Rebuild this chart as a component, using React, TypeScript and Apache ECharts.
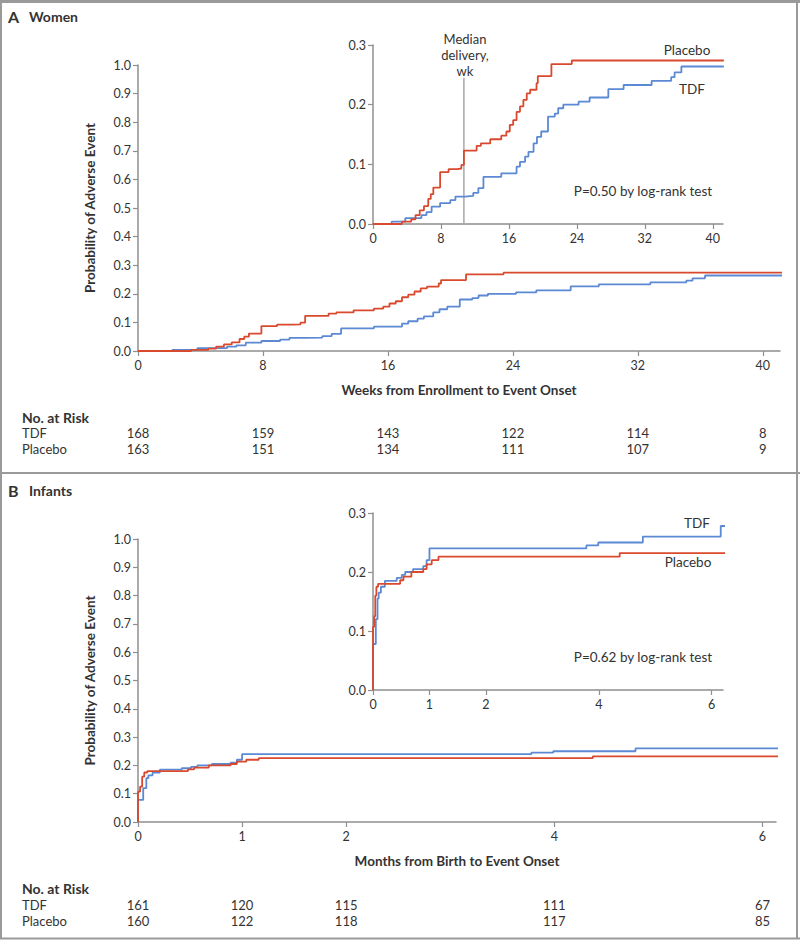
import React, { useEffect, useRef } from "react";
import * as echarts from "echarts";

// ---------- data ----------
const womenWeekTicks = [0, 8, 16, 24, 32, 40];
const infantMonthTicks = [0, 1, 2, 4, 6];

// Kaplan-Meier cumulative incidence, [week, probability]
const womenTDF: [number, number][] = [
  [0, 0], [2.2, 0.004], [3.8, 0.01], [5.7, 0.015], [6.3, 0.02], [6.9, 0.029], [7.9, 0.035],
  [9.1, 0.04], [9.7, 0.046], [10.8, 0.047], [11.8, 0.052], [12.4, 0.06], [13.0, 0.079],
  [15.1, 0.085], [16.9, 0.096], [17.3, 0.104], [17.9, 0.113], [18.3, 0.121], [18.9, 0.135],
  [19.3, 0.146], [19.8, 0.155], [20.6, 0.18], [21.4, 0.185], [21.8, 0.194], [22.4, 0.2],
  [24.2, 0.205], [25.5, 0.212], [27.7, 0.226], [29.5, 0.233], [32.8, 0.24], [35.1, 0.246],
  [35.5, 0.254], [36.3, 0.264], [41.3, 0.264],
];
const womenPlacebo: [number, number][] = [
  [0, 0], [3.4, 0.004], [4.5, 0.008], [5.0, 0.015], [5.5, 0.023], [6.0, 0.03], [6.5, 0.042],
  [6.8, 0.05], [7.1, 0.061], [7.9, 0.087], [8.9, 0.092], [9.9, 0.093], [10.4, 0.099],
  [10.7, 0.123], [12.2, 0.131], [12.7, 0.135], [13.8, 0.142], [15.1, 0.148], [15.7, 0.155],
  [16.1, 0.166], [16.5, 0.174], [16.9, 0.188], [17.3, 0.197], [17.7, 0.208], [18.1, 0.219],
  [18.5, 0.225], [19.25, 0.236], [19.4, 0.248], [21.0, 0.268], [23.4, 0.274], [41.3, 0.273],
];
// [month, probability]
const infantTDF: [number, number][] = [
  [0, 0], [0, 0.078], [0.05, 0.12], [0.08, 0.155], [0.1, 0.165], [0.14, 0.175], [0.21, 0.185],
  [0.42, 0.19], [0.51, 0.195], [0.57, 0.2], [0.71, 0.205], [0.89, 0.21], [0.95, 0.22],
  [1.0, 0.24], [3.78, 0.245], [3.99, 0.25], [4.78, 0.26], [6.16, 0.278], [6.25, 0.278],
];
const infantPlacebo: [number, number][] = [
  [0, 0], [0, 0.107], [0.02, 0.125], [0.04, 0.16], [0.06, 0.175], [0.09, 0.18], [0.48, 0.186],
  [0.54, 0.192], [0.68, 0.2], [0.89, 0.205], [0.95, 0.213], [1.04, 0.22], [1.16, 0.226],
  [4.37, 0.232], [6.25, 0.232],
];

const medianDeliveryWeek = 10.7;
const medianDeliveryLineTop = 0.245;

const womenRiskTDF = [168, 159, 143, 122, 114, 8];
const womenRiskPlacebo = [163, 151, 134, 111, 107, 9];
const infantRiskTDF = [161, 120, 115, 111, 67];
const infantRiskPlacebo = [160, 122, 118, 117, 85];

// ---------- styles ----------
const RED = "#d9492e";
const BLUE = "#5b89d3";
const AXIS = "#8f8f8f";
const BORDER = "#9a9a9a";
const TEXT = "#333333";
const FONT = 'Lato, "Open Sans", "Noto Sans", sans-serif';
const NUM_FONT = '"Liberation Sans Narrow", Lato, "Noto Sans", sans-serif';

function makeX(gridIndex: number, max: number, ticks: number[], name?: string) {
  return {
    type: "value",
    gridIndex,
    min: 0,
    max,
    axisLine: { show: true, onZero: false, lineStyle: { color: AXIS, width: 1.5 } },
    axisTick: { show: true, length: 5, customValues: ticks, lineStyle: { color: AXIS, width: 1.2 } },
    axisLabel: { customValues: ticks, color: TEXT, fontSize: 12.5, fontFamily: NUM_FONT, margin: 8 },
    splitLine: { show: false },
    name: name || "",
    nameLocation: "middle",
    nameGap: 32,
    nameTextStyle: { color: TEXT, fontSize: 13.5, fontWeight: "bold", fontFamily: FONT },
  };
}

function makeY(gridIndex: number, max: number, name?: string) {
  return {
    type: "value",
    gridIndex,
    min: 0,
    max,
    interval: 0.1,
    axisLine: { show: true, onZero: false, lineStyle: { color: AXIS, width: 1.5 } },
    axisTick: { show: true, length: 5, lineStyle: { color: AXIS, width: 1.2 } },
    axisLabel: {
      color: TEXT,
      fontSize: 12.5,
      fontFamily: NUM_FONT,
      margin: 7,
      formatter: (v: number) => v.toFixed(1),
    },
    splitLine: { show: false },
    name: name || "",
    nameLocation: "middle",
    nameRotate: 90,
    nameGap: 41,
    nameTextStyle: { color: TEXT, fontSize: 13.5, fontWeight: "bold", fontFamily: FONT },
  };
}

function km(name: string, data: [number, number][], color: string, axisIndex: number) {
  return {
    name,
    type: "line",
    xAxisIndex: axisIndex,
    yAxisIndex: axisIndex,
    data,
    step: "end",
    symbol: "none",
    silent: true,
    lineStyle: { color, width: 1.8 },
  };
}

function txt(text: string, x: number, y: number, opts: any = {}) {
  return {
    type: "text",
    x,
    y,
    silent: true,
    style: {
      text,
      fill: TEXT,
      fontSize: opts.fontSize || 13.5,
      fontFamily: opts.fontFamily || FONT,
      fontWeight: opts.fontWeight || "normal",
      align: opts.align || "left",
      verticalAlign: "middle",
      lineHeight: opts.lineHeight,
    },
  };
}

function hline(x1: number, y: number, x2: number, w: number) {
  return { type: "line", silent: true, shape: { x1, y1: y, x2, y2: y }, style: { stroke: BORDER, lineWidth: w } };
}
function vline(x: number, y1: number, y2: number, w: number) {
  return { type: "line", silent: true, shape: { x1: x, y1, x2: x, y2 }, style: { stroke: BORDER, lineWidth: w } };
}

export default function App() {
  const ref = useRef<HTMLDivElement>(null);

  useEffect(() => {
    document.body.style.margin = "0";
    if (!ref.current) return;
    const chart = echarts.init(ref.current, undefined, { renderer: "svg" });

    const option: any = {
      animation: false,
      backgroundColor: "#ffffff",
      textStyle: { fontFamily: FONT },
      grid: [
        { left: 138, top: 65, width: 642, height: 286 },
        { left: 373, top: 45, width: 350, height: 179 },
        { left: 138, top: 539, width: 638, height: 283 },
        { left: 373, top: 513, width: 350, height: 177 },
      ],
      xAxis: [
        makeX(0, 41.1, womenWeekTicks, "Weeks from Enrollment to Event Onset"),
        makeX(1, 41.2, womenWeekTicks),
        makeX(2, 6.13, infantMonthTicks, "Months from Birth to Event Onset"),
        makeX(3, 6.2, infantMonthTicks),
      ],
      yAxis: [
        makeY(0, 1, "Probability of Adverse Event"),
        makeY(1, 0.3),
        makeY(2, 1, "Probability of Adverse Event"),
        makeY(3, 0.3),
      ],
      series: [
        km("TDF", womenTDF, BLUE, 0),
        km("Placebo", womenPlacebo, RED, 0),
        {
          name: "Median delivery",
          type: "line",
          xAxisIndex: 1,
          yAxisIndex: 1,
          data: [
            [medianDeliveryWeek, 0],
            [medianDeliveryWeek, medianDeliveryLineTop],
          ],
          symbol: "none",
          silent: true,
          lineStyle: { color: "#a8a8a8", width: 1.5 },
        },
        km("TDF", womenTDF, BLUE, 1),
        km("Placebo", womenPlacebo, RED, 1),
        km("TDF", infantTDF, BLUE, 2),
        km("Placebo", infantPlacebo, RED, 2),
        km("TDF", infantTDF, BLUE, 3),
        km("Placebo", infantPlacebo, RED, 3),
      ],
    };
    chart.setOption(option);

    const px = (axis: number, v: number) => chart.convertToPixel({ xAxisIndex: axis } as any, v) as number;
    const elements: any[] = [
      // panel frame
      hline(0, 1.5, 800, 3),
      vline(1, 0, 939, 2),
      vline(797, 0, 939, 2),
      hline(0, 473, 800, 2),
      hline(0, 938.5, 800, 2),
      // headers
      txt("A", 8, 16, { fontSize: 16, fontWeight: "bold" }),
      txt("Women", 29, 16, { fontSize: 14, fontWeight: "bold" }),
      txt("B", 8, 490, { fontSize: 16, fontWeight: "bold" }),
      txt("Infants", 29, 490, { fontSize: 14, fontWeight: "bold" }),
      // inset A annotations
      txt("Median\ndelivery,\nwk", 465, 55, { align: "center", lineHeight: 16, fontSize: 13 }),
      txt("Placebo", 687, 50, { align: "center" }),
      txt("TDF", 692, 89, { align: "center" }),
      txt("P=0.50 by log-rank test", 643, 191, { align: "center" }),
      // inset B annotations
      txt("TDF", 697, 523, { align: "center" }),
      txt("Placebo", 688, 562, { align: "center" }),
      txt("P=0.62 by log-rank test", 643, 657, { align: "center" }),
      // risk table A
      txt("No. at Risk", 22, 417, { fontWeight: "bold", fontSize: 14 }),
      txt("TDF", 22, 433, { fontSize: 13 }),
      txt("Placebo", 22, 449, { fontSize: 13 }),
      // risk table B
      txt("No. at Risk", 22, 888, { fontWeight: "bold", fontSize: 14 }),
      txt("TDF", 22, 905, { fontSize: 13 }),
      txt("Placebo", 22, 921, { fontSize: 13 }),
    ];
    womenWeekTicks.forEach((t, i) => {
      const x = px(0, t);
      elements.push(txt(String(womenRiskTDF[i]), x, 433, { align: "center", fontFamily: NUM_FONT, fontSize: 13 }));
      elements.push(txt(String(womenRiskPlacebo[i]), x, 449, { align: "center", fontFamily: NUM_FONT, fontSize: 13 }));
    });
    infantMonthTicks.forEach((t, i) => {
      const x = px(2, t);
      elements.push(txt(String(infantRiskTDF[i]), x, 905, { align: "center", fontFamily: NUM_FONT, fontSize: 13 }));
      elements.push(txt(String(infantRiskPlacebo[i]), x, 921, { align: "center", fontFamily: NUM_FONT, fontSize: 13 }));
    });
    chart.setOption({ graphic: { elements } });

    return () => chart.dispose();
  }, []);

  return <div ref={ref} style={{ width: 800, height: 946 }} />;
}
